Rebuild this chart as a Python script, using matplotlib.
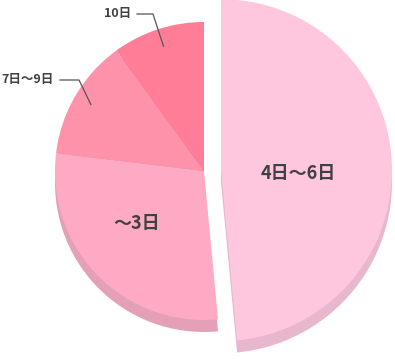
import numpy as np
import matplotlib.pyplot as plt

plt.rcParams['font.family'] = ['Noto Sans CJK JP', 'DejaVu Sans']

# データ（時計回り・12時から）
labels = ['4日〜6日', '〜3日', '7日〜9日', '10日']
values = [48.5, 28.4, 13.1, 10.0]
colors = ['#FFC7DE', '#FFAAC4', '#FF92AB', '#FF7D96']
shadow_colors = ['#E6B7CD', '#E4A0B6', '#E08AA0', '#E07890']

W, H = 395, 359
cx, cy = 204, H - 171      # 円の中心
r = 149                    # 半径
r_big = 171                # 切り出したスライスの半径
pull = 17                  # 切り出し量
depth = 12                 # 影の厚み

fig = plt.figure(figsize=(W / 100, H / 100), dpi=100)
ax = fig.add_axes([0, 0, 1, 1])

explode = [pull, 0, 0, 0]

# 影
sh, _ = ax.pie(values, colors=shadow_colors, radius=r, center=(cx, cy - depth),
               startangle=90, counterclock=False, explode=explode,
               frame=True, wedgeprops=dict(linewidth=0))
sh[0].set_radius(r_big)
for w in sh:
    w.set_zorder(1)

# 本体
wedges, _ = ax.pie(values, colors=colors, radius=r, center=(cx, cy),
                   startangle=90, counterclock=False, explode=explode,
                   frame=True, wedgeprops=dict(linewidth=0))
wedges[0].set_radius(r_big)
for w in wedges:
    w.set_zorder(2)

ax.set_xlim(0, W)
ax.set_ylim(0, H)
ax.set_aspect('equal')
ax.axis('off')

# 内側ラベル
ax.text(298, H - 173, labels[0], ha='center', va='center', fontsize=13,
        fontweight='bold', color='#404040', zorder=5)
ax.text(137, H - 224, labels[1], ha='center', va='center', fontsize=13,
        fontweight='bold', color='#404040', zorder=5)

# 外側ラベル（引き出し線）
outside = [(2, 54, H - 80, 79), (3, 131, H - 14, 153)]
for i, tx, ty, ex in outside:
    w = wedges[i]
    mid = np.deg2rad((w.theta1 + w.theta2) / 2)
    axp = cx + 0.88 * r * np.cos(mid)
    ayp = cy + 0.88 * r * np.sin(mid)
    ax.plot([tx + 6, ex, axp], [ty, ty, ayp], color='#555555', lw=0.9, zorder=4)
    ax.text(tx, ty, labels[i], ha='right', va='center', fontsize=9,
            fontweight='bold', color='#404040', zorder=5)

fig.savefig('out.png', dpi=100)
